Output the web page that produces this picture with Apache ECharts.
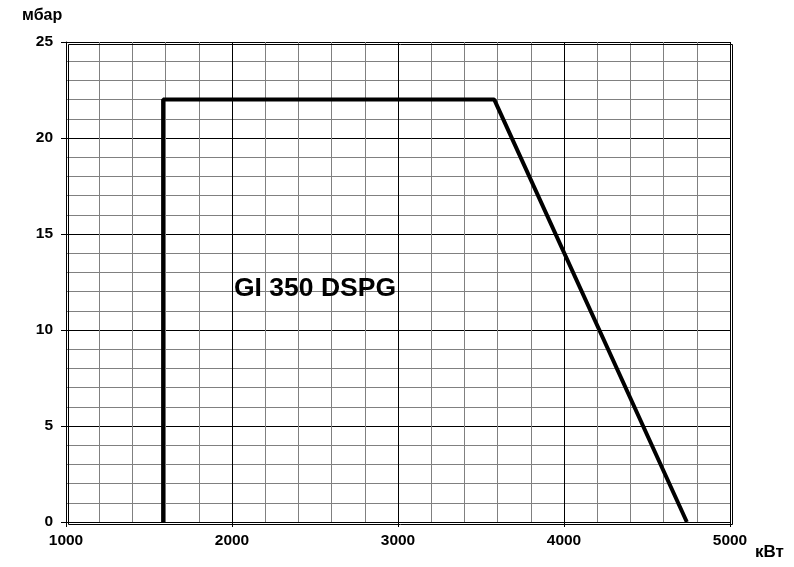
<!DOCTYPE html>
<html><head><meta charset="utf-8">
<script src="https://cdn.jsdelivr.net/npm/echarts@6/dist/echarts.min.js"></script>
<style>html,body{margin:0;padding:0;background:#fff}#c{width:794px;height:567px}</style>
</head><body><div id="c"></div>
<script>
const powerKW = [1585, 1585, 3580, 4740];
const pressureMbar = [0, 22, 22, 0];
const xTicks = [1000, 2000, 3000, 4000, 5000];
const yTicks = [0, 5, 10, 15, 20, 25];
const modelLabel = 'GI 350 DSPG';
const labelPos = [2000, 12.15];
const xUnit = 'кВт';
const yUnit = 'мбар';

const font = 'Liberation Sans, Arial, sans-serif';
const chart = echarts.init(document.getElementById('c'));
chart.setOption({
  animation: false,
  backgroundColor: '#fff',
  grid: {left: 66, right: 64, top: 42, bottom: 45, containLabel: false},
  xAxis: {
    type: 'value', min: xTicks[0], max: xTicks[xTicks.length-1], interval: 1000,
    axisLine: {show: true, lineStyle: {color: '#000', width: 1}},
    axisTick: {show: true, length: 5, lineStyle: {color: '#000'}},
    axisLabel: {color: '#000', fontFamily: font, fontWeight: 'bold', fontSize: 15.5, margin: 11, formatter: v => String(v)},
    splitLine: {show: true, lineStyle: {color: '#000', width: 1}},
    minorTick: {show: true, splitNumber: 5, length: 0},
    minorSplitLine: {show: true, lineStyle: {color: '#808080', width: 1}}
  },
  yAxis: {
    type: 'value', min: yTicks[0], max: yTicks[yTicks.length-1], interval: 5,
    axisLine: {show: true, lineStyle: {color: '#000', width: 1}},
    axisTick: {show: true, length: 5, lineStyle: {color: '#000'}},
    axisLabel: {color: '#000', fontFamily: font, fontWeight: 'bold', fontSize: 15.5, margin: 13, formatter: v => String(v)},
    splitLine: {show: true, lineStyle: {color: '#000', width: 1}},
    minorTick: {show: true, splitNumber: 5, length: 0},
    minorSplitLine: {show: true, lineStyle: {color: '#808080', width: 1}}
  },
  graphic: [
    {type: 'text', left: 22, top: 8, style: {text: yUnit, fill: '#000', font: 'bold 16px ' + font}},
    {type: 'text', left: 755, top: 544, style: {text: xUnit, fill: '#000', font: 'bold 17px ' + font}},
    {type: 'rect', left: 66, top: 42, shape: {width: 664, height: 480}, style: {fill: 'none', stroke: '#000', lineWidth: 1}, z: 10}
  ],
  series: [{
    type: 'line',
    data: powerKW.map((x, i) => [x, pressureMbar[i]]),
    symbol: 'none',
    lineStyle: {color: '#000', width: 4},
    z: 5,
    markPoint: {
      symbol: 'circle', symbolSize: 0,
      data: [{coord: labelPos}],
      label: {show: true, position: 'right', distance: 2, formatter: modelLabel, color: '#000', fontFamily: font, fontWeight: 'bold', fontSize: 26.5}
    }
  }]
});
</script></body></html>
